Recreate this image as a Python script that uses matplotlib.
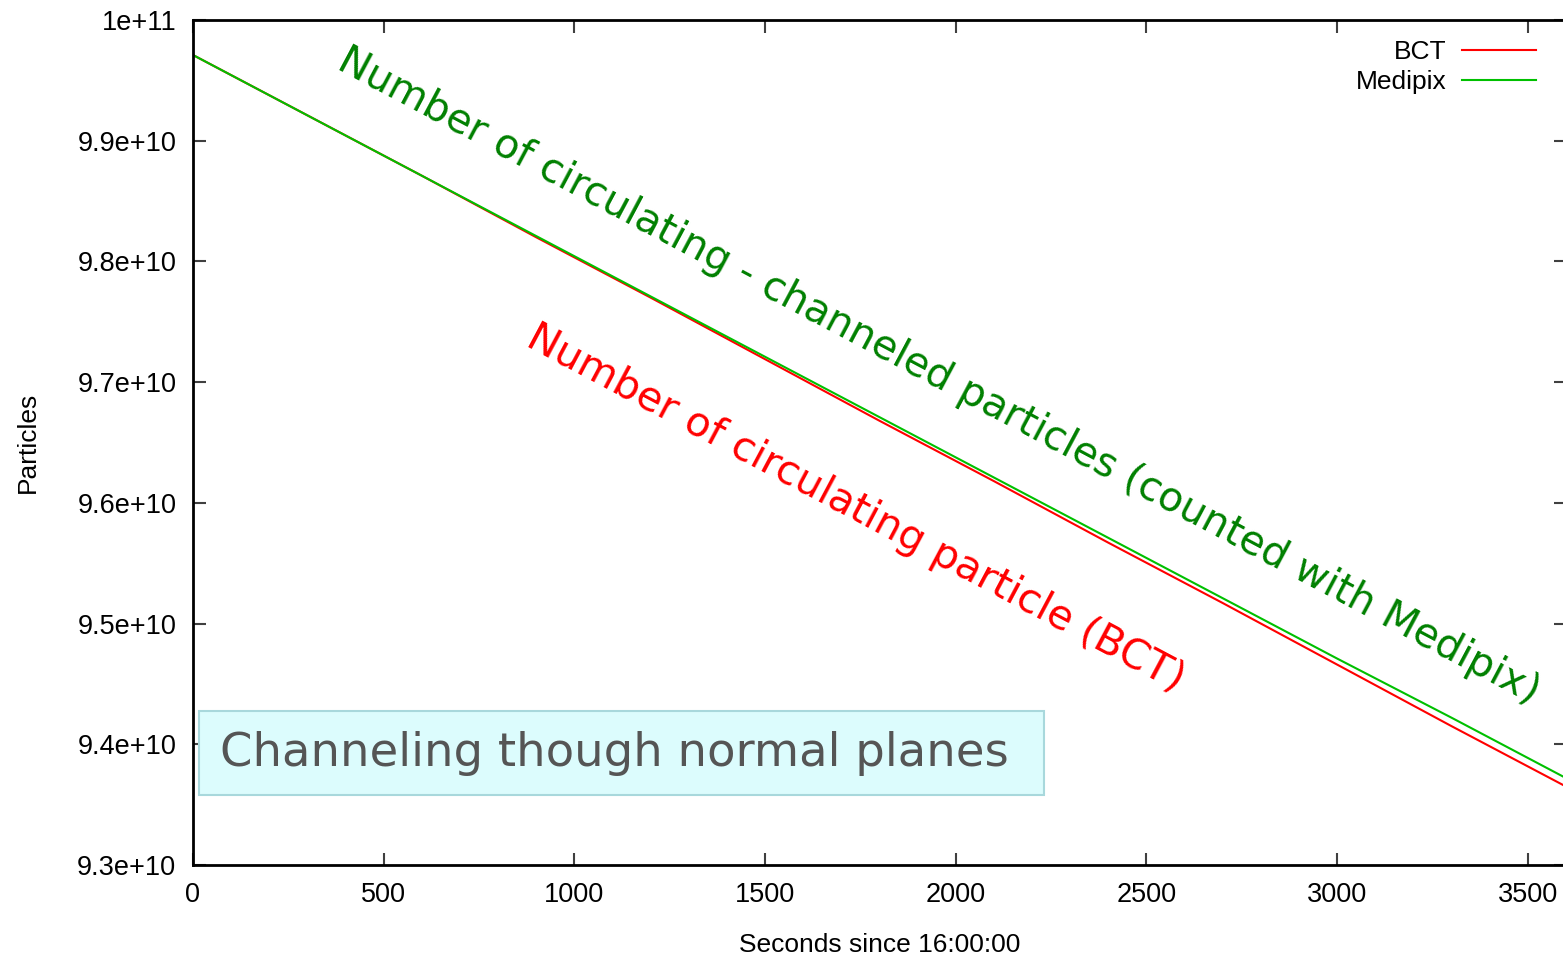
import numpy as np
import matplotlib.pyplot as plt
from matplotlib.patches import Rectangle

# seconds since 16:00:00
seconds = [0, 300, 600, 900, 1200, 1500, 1800, 2100, 2400, 2700, 3000, 3300, 3600]
# particles, in units of 1e10
bct = [9.971, 9.921, 9.871, 9.820, 9.770, 9.719, 9.668, 9.618, 9.567, 9.517, 9.466, 9.415, 9.365]
medipix = [9.971, 9.921, 9.871, 9.821, 9.771, 9.721, 9.671, 9.621, 9.571, 9.521, 9.471, 9.422, 9.372]

yticks = [9.3e10, 9.4e10, 9.5e10, 9.6e10, 9.7e10, 9.8e10, 9.9e10, 1e11]
ytick_labels = ["9.3e+10", "9.4e+10", "9.5e+10", "9.6e+10", "9.7e+10", "9.8e+10", "9.9e+10", "1e+11"]
xticks = [0, 500, 1000, 1500, 2000, 2500, 3000, 3500]

plt.rcParams['font.family'] = ['Liberation Sans', 'DejaVu Sans']

W, H = 1563, 955
fig = plt.figure(figsize=(W / 100, H / 100), dpi=100)
ax = fig.add_axes([193 / W, (H - 865) / H, (1566 - 193) / W, (865 - 20) / H])

ax.plot(seconds, np.array(bct) * 1e10, color='#ff0000', lw=1.5, label='BCT')
ax.plot(seconds, np.array(medipix) * 1e10, color='#00c000', lw=1.5, label='Medipix')

ax.set_xlim(0, 3600)
ax.set_ylim(9.3e10, 1e11)
ax.set_xticks(xticks)
ax.set_xticklabels([str(v) for v in xticks])
ax.set_yticks(yticks)
ax.set_yticklabels(ytick_labels)
ax.tick_params(direction='in', length=9, width=1.5, color='#404040',
               labelsize=19.5, top=True, right=True, pad=12)
for s in ax.spines.values():
    s.set_linewidth(2)
ax.set_xlabel("Seconds since 16:00:00", fontsize=19, labelpad=18)
ax.set_ylabel("Particles", fontsize=19, labelpad=27)

leg = ax.legend(loc='upper right', bbox_to_anchor=(0.9925, 1.0), frameon=False,
                markerfirst=False, fontsize=19, handlelength=2.8, handletextpad=0.6,
                labelspacing=0.25, borderaxespad=0.35)
for t in leg.get_texts():
    t.set_ha('right')

hand = ['DejaVu Sans']
ax.text(0.114, 0.975, "Number of circulating - channeled particles (counted with Medipix)",
        transform=ax.transAxes, rotation=-28, rotation_mode='anchor', ha='left', va='top',
        color='#008000', fontsize=29.2, family=hand)
ax.text(0.252, 0.648, "Number of circulating particle (BCT)",
        transform=ax.transAxes, rotation=-28, rotation_mode='anchor', ha='left', va='top',
        color='#ff0000', fontsize=29.5, family=hand)

box = Rectangle((199 / W, (H - 795) / H), (1044 - 199) / W, (795 - 711) / H,
                transform=fig.transFigure, facecolor='#dcfcfd', edgecolor='#a8d8dc', lw=1.5)
fig.patches.append(box)
fig.text(220 / W, (H - 753) / H, "Channeling though normal planes", ha='left', va='center',
         color='#555555', fontsize=33.5, family=hand)

fig.savefig("out.png", dpi=100)
